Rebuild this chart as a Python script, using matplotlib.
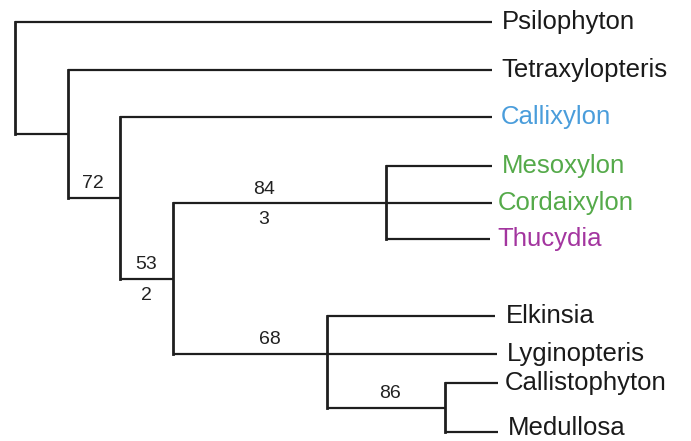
import matplotlib
matplotlib.use("Agg")
import matplotlib.pyplot as plt
import numpy as np

# ---- data ----
taxa = ["Psilophyton", "Tetraxylopteris", "Callixylon", "Mesoxylon", "Cordaixylon",
        "Thucydia", "Elkinsia", "Lyginopteris", "Callistophyton", "Medullosa"]
taxon_groups = ["other", "other", "blue", "green", "green",
                "magenta", "other", "other", "other", "other"]
leaf_y = [22, 70, 117, 166, 203, 239, 316, 354, 383, 432]
tip_x = [492, 492, 492, 492, 492, 490, 495, 497, 498, 498]

node_names = ["root", "A", "B", "C", "D", "E", "F"]
node_depth = [15, 68, 120, 173, 386, 327, 445]
node_children = [
    ["Psilophyton", "A"],
    ["Tetraxylopteris", "B"],
    ["Callixylon", "C"],
    ["D", "E"],
    ["Mesoxylon", "Cordaixylon", "Thucydia"],
    ["Elkinsia", "Lyginopteris", "F"],
    ["Callistophyton", "Medullosa"],
]
support_nodes = ["B", "C", "D", "E", "F"]
support_above = ["72", "53", "84", "68", "86"]
support_below = ["", "2", "3", "", ""]

# ---- styles / layout ----
group_colors = {"other": "#1a1a1a", "blue": "#4a9ddb",
                "green": "#55aa4a", "magenta": "#a3359f"}
label_x = {"B": 93, "C": 146, "D": 264, "E": 270, "F": 390}
text_x = [502, 501, 501, 502, 498, 497, 506, 507, 505, 508]
line_color = "#1e1e1e"

fig = plt.figure(figsize=(6.91, 4.41), dpi=100)
ax = fig.add_axes([0, 0, 1, 1])
ax.set_xlim(0, 691)
ax.set_ylim(441, 0)
ax.axis("off")

x_of = {n: d for n, d in zip(node_names, node_depth)}
child_map = {n: c for n, c in zip(node_names, node_children)}
for t, x, y in zip(taxa, tip_x, leaf_y):
    x_of[t] = x
y_of = {t: y for t, y in zip(taxa, leaf_y)}


def get_y(n):
    if n in y_of:
        return y_of[n]
    ys = [get_y(c) for c in child_map[n]]
    y_of[n] = float(np.median(ys))
    return y_of[n]


for n in node_names:
    get_y(n)

for n in node_names:
    px = x_of[n]
    ys = [y_of[c] for c in child_map[n]]
    ax.plot([px, px], [min(ys), max(ys)], color=line_color, lw=2.0,
            solid_capstyle="projecting")
    for c in child_map[n]:
        ax.plot([px, x_of[c]], [y_of[c], y_of[c]], color=line_color, lw=1.6,
                solid_capstyle="butt")

for t, g, tx in zip(taxa, taxon_groups, text_x):
    base = min(y_of[t] + 7, 435)
    ax.text(tx, base, t, color=group_colors[g], fontsize=18.5,
            family="Liberation Sans", ha="left", va="baseline")

for n, a, b in zip(support_nodes, support_above, support_below):
    y = y_of[n]
    if a:
        ax.text(label_x[n], y - 14, a, fontsize=14, family="Liberation Sans",
                ha="center", va="center", color="#222222")
    if b:
        ax.text(label_x[n], y + 17, b, fontsize=14, family="Liberation Sans",
                ha="center", va="center", color="#222222")

fig.savefig("out.png", dpi=100)
